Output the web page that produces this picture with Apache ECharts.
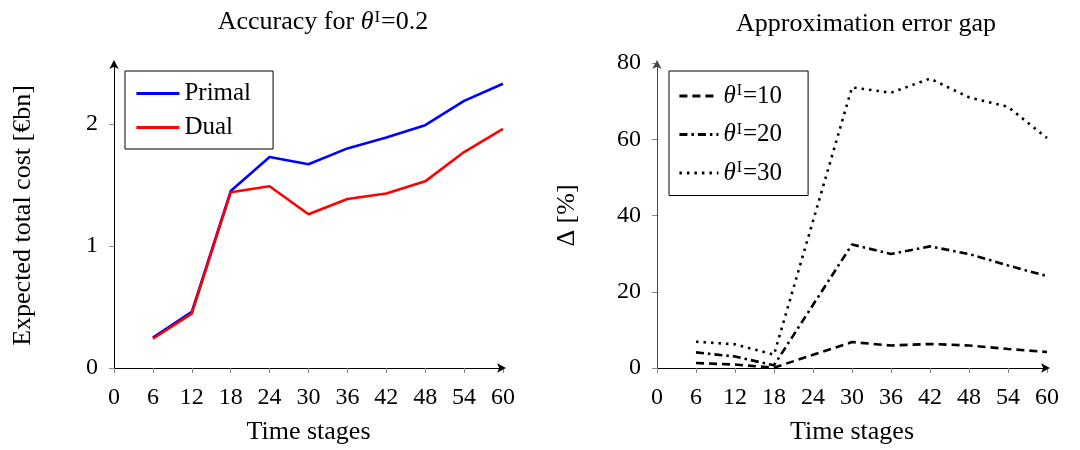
<!DOCTYPE html>
<html>
<head>
<meta charset="utf-8">
<script src="https://cdn.jsdelivr.net/npm/echarts@6/dist/echarts.min.js"></script>
<style>html,body{margin:0;padding:0;background:#fff}#c{width:1080px;height:450px}</style>
</head>
<body>
<div id="c"></div>
<script>
// ---- data ----
var stagesL = [6, 12, 18, 24, 30, 36, 42, 48, 54, 60];
var primal = [0.25, 0.46, 1.45, 1.73, 1.67, 1.80, 1.89, 1.99, 2.19, 2.33];
var dual   = [0.24, 0.445, 1.44, 1.49, 1.26, 1.385, 1.43, 1.53, 1.77, 1.96];

var stagesR = [6, 12, 18, 30, 36, 42, 48, 54, 60];
var theta10 = [1.3, 0.9, 0.1, 6.8, 5.9, 6.3, 5.9, 5.0, 4.2];
var theta20 = [4.1, 3.0, 0.7, 32.4, 29.9, 31.9, 29.9, 26.9, 24.1];
var theta30 = [6.9, 6.2, 3.5, 73.6, 72.2, 75.9, 71.0, 68.5, 60.3];

var xTicks = [0, 6, 12, 18, 24, 30, 36, 42, 48, 54, 60];
var yTicksL = [0, 1, 2];
var yTicksR = [0, 20, 40, 60, 80];

function pairs(xs, ys) { return xs.map(function (x, i) { return [x, ys[i]]; }); }

var FONT = '"Liberation Serif", "DejaVu Serif", serif';
function richSet(size) {
  return {
    n: { fontFamily: FONT, fontSize: size, fontWeight: 'normal', color: '#000' },
    i: { fontFamily: FONT, fontSize: size, fontWeight: 'normal', fontStyle: 'italic', color: '#000' },
    s: { fontFamily: FONT, fontSize: Math.round(size * 0.65), fontWeight: 'normal', color: '#000',
         verticalAlign: 'top', padding: [0, 1, 10, 1] }
  };
}

function xAx(grid, inside) {
  var a = {
    type: 'value', gridIndex: grid, min: 0, max: 60, interval: 6,
    splitLine: { show: false },
    axisTick: { show: true, inside: inside, length: 5, customValues: xTicks, lineStyle: { color: '#888', width: 1 } }
  };
  if (inside) {
    a.axisLine = { show: false };
    a.axisLabel = { show: false };
  } else {
    a.axisLine = { show: true, symbol: ['none', 'arrow'], symbolSize: [7, 9], symbolOffset: [0, 3],
                   lineStyle: { color: '#000', width: 1 } };
    a.axisLabel = { show: true, margin: 18, customValues: xTicks, fontFamily: FONT, fontSize: 24, color: '#000' };
    a.name = 'Time stages';
    a.nameLocation = 'middle';
    a.nameGap = 51;
    a.nameTextStyle = { fontFamily: FONT, fontSize: 26, color: '#000' };
  }
  return a;
}

function yAx(grid, inside, max, interval, ticks, name, nameGap, color) {
  var a = {
    type: 'value', gridIndex: grid, min: 0, max: max, interval: interval,
    splitLine: { show: false },
    axisTick: { show: true, inside: inside, length: 5, customValues: ticks, lineStyle: { color: '#888', width: 1 } }
  };
  if (inside) {
    a.axisLine = { show: false };
    a.axisLabel = { show: false };
  } else {
    a.axisLine = { show: true, symbol: ['none', 'arrow'], symbolSize: [7, 9], symbolOffset: [0, 3],
                   lineStyle: { color: color, width: 1 } };
    a.axisLabel = { show: true, margin: 16, customValues: ticks, fontFamily: FONT, fontSize: 24, color: '#000' };
    a.name = name;
    a.nameLocation = 'middle';
    a.nameGap = nameGap;
    a.nameTextStyle = { fontFamily: FONT, fontSize: 26, color: '#000' };
  }
  return a;
}

var option = {
  animation: false,
  backgroundColor: '#fff',
  title: [
    { text: '{n|Accuracy for }{i|θ}{s|I}{n|=0.2}', left: 318, top: 4, textAlign: 'center',
      textStyle: { fontWeight: 'normal', rich: richSet(26) } },
    { text: 'Approximation error gap', left: 861, top: 6, textAlign: 'center',
      textStyle: { fontFamily: FONT, fontSize: 26, fontWeight: 'normal', color: '#000' } }
  ],
  grid: [
    { left: 114, width: 389, top: 63, bottom: 80 },
    { left: 657, width: 390, top: 63, bottom: 80 }
  ],
  xAxis: [xAx(0, false), xAx(0, true), xAx(1, false), xAx(1, true)],
  yAxis: [
    yAx(0, false, 2.5, 0.5, yTicksL, 'Expected total cost [€bn]', 78, '#000'),
    yAx(0, true, 2.5, 0.5, yTicksL),
    yAx(1, false, 80, 20, yTicksR, 'Δ [%]', 77, '#444'),
    yAx(1, true, 80, 20, yTicksR)
  ],
  legend: [
    { orient: 'vertical', left: 125, top: 71, itemWidth: 43, itemHeight: 20, itemGap: 9,
      padding: [10, 22, 9, 10], borderColor: '#000', borderWidth: 1,
      itemStyle: { opacity: 0, borderWidth: 0 }, lineStyle: { width: 2.8 },
      data: ['Primal', 'Dual'], textStyle: { fontFamily: FONT, fontSize: 25, color: '#000' } },
    { orient: 'vertical', left: 669, top: 71, itemWidth: 39, itemHeight: 20, itemGap: 13,
      padding: [12, 26, 10, 9], borderColor: '#000', borderWidth: 1,
      itemStyle: { opacity: 0, borderWidth: 0 }, lineStyle: { width: 2.8 },
      data: ['t10', 't20', 't30'], textStyle: { fontFamily: FONT, fontSize: 25, color: '#000', rich: richSet(25) },
      formatter: function (n) { return '{i|θ}{s|I}{n|=' + n.slice(1) + '}'; } }
  ],
  series: [
    { name: 'Primal', type: 'line', xAxisIndex: 0, yAxisIndex: 0, data: pairs(stagesL, primal),
      symbol: 'none', lineStyle: { color: '#0000ff', width: 2.6 }, itemStyle: { color: '#0000ff' } },
    { name: 'Dual', type: 'line', xAxisIndex: 0, yAxisIndex: 0, data: pairs(stagesL, dual),
      symbol: 'none', lineStyle: { color: '#ff0000', width: 2.6 }, itemStyle: { color: '#ff0000' } },
    { name: 't10', type: 'line', xAxisIndex: 2, yAxisIndex: 2, data: pairs(stagesR, theta10),
      symbol: 'none', lineStyle: { color: '#000', width: 2.6, type: [8, 5], cap: 'butt' }, itemStyle: { color: '#000' } },
    { name: 't20', type: 'line', xAxisIndex: 2, yAxisIndex: 2, data: pairs(stagesR, theta20),
      symbol: 'none', lineStyle: { color: '#000', width: 2.6, type: [8, 4, 2.5, 4], cap: 'butt' }, itemStyle: { color: '#000' } },
    { name: 't30', type: 'line', xAxisIndex: 2, yAxisIndex: 2, data: pairs(stagesR, theta30),
      symbol: 'none', lineStyle: { color: '#000', width: 2.6, type: [2.5, 5], cap: 'butt' }, itemStyle: { color: '#000' } }
  ]
};

var chart = echarts.init(document.getElementById('c'), null, { renderer: 'canvas' });
chart.setOption(option);
</script>
</body>
</html>
